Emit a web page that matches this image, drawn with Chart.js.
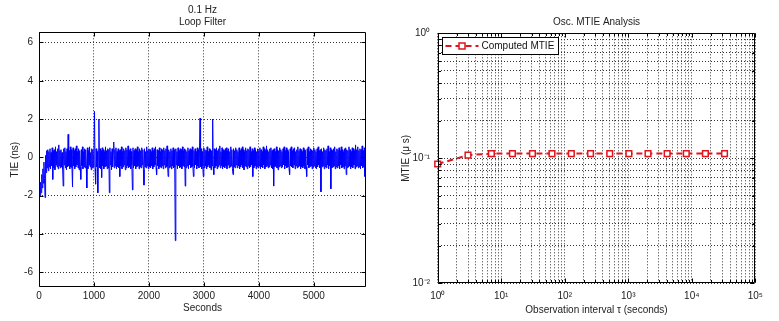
<!DOCTYPE html>
<html>
<head>
<meta charset="utf-8">
<script src="https://cdn.jsdelivr.net/npm/chart.js@4.4.1/dist/chart.umd.min.js"></script>
<style>
html, body { margin: 0; padding: 0; background: #fff; }
#wrap { position: relative; width: 779px; height: 321px; overflow: hidden; }
canvas { position: absolute; top: 0; }
#tieChart { left: 0; }
#mtieChart { left: 390px; }
</style>
</head>
<body>
<div id="wrap">
  <canvas id="tieChart" width="390" height="321"></canvas>
  <canvas id="mtieChart" width="389" height="321"></canvas>
</div>
<script>
// left panel: TIE trace, one value every tieStep seconds (ns)
const tieStep = 10
const tieValues = [
  -2.10,-1.60,-2.00,-1.30,-1.85,-0.90,-1.60,-0.60,-1.35,-0.25,-1.10,-2.10,0.10,-0.80,0.35,-0.55,0.40,-0.70,0.30,-0.50,
  0.45,-0.60,0.25,-0.45,0.50,-1.15,0.35,-0.55,0.40,-0.65,0.55,-0.40,0.30,-0.50,0.45,-0.60,0.65,-0.45,0.35,-0.55,
  0.40,-0.50,0.25,-0.60,-1.50,0.45,-0.40,0.50,-0.55,0.30,-0.65,0.45,-0.50,1.20,-0.45,0.35,-0.60,0.55,-0.50,0.40,
  -0.55,-1.55,0.50,-0.45,0.35,-0.60,0.45,-0.50,0.60,-0.40,0.30,-0.55,0.45,-0.65,0.35,-0.50,-1.15,0.40,-0.45,0.55,
  -0.60,0.30,-0.50,0.45,-0.55,0.40,-0.45,-1.60,0.50,-0.60,0.35,-0.40,0.55,-0.50,0.25,-0.65,0.45,-0.55,0.40,-0.50,
  0.35,2.40,-0.60,-1.40,0.45,-0.50,0.30,-1.85,0.40,2.00,-0.55,0.45,-0.60,0.35,-1.05,0.50,-0.45,0.40,-0.60,0.30,
  -0.50,0.55,-0.45,0.35,-0.60,0.45,-0.55,0.40,-1.85,0.50,-0.40,0.30,-0.65,0.45,-0.50,0.35,0.80,-0.55,0.40,-0.45,
  0.50,-0.60,0.30,-0.50,0.45,-0.55,0.35,-1.00,0.40,-0.45,0.55,-0.60,0.30,-0.50,0.45,-0.40,0.35,-0.65,0.50,-0.55,
  0.40,-0.45,0.60,-0.55,0.35,-0.50,0.45,-0.60,0.30,-0.40,-1.70,0.50,-0.55,0.35,-0.45,0.45,-0.60,0.40,-0.50,0.55,
  -0.45,0.30,-0.60,0.45,-0.50,0.35,-0.55,0.50,-0.40,0.40,-0.65,-1.45,0.45,-0.50,0.30,-0.55,0.55,-0.45,0.35,-0.60,
  0.45,-0.50,0.40,-0.55,0.30,-0.45,0.50,-0.60,0.35,-0.50,0.45,-0.40,0.55,-0.55,-0.90,0.40,-0.45,0.35,-0.60,0.50,
  -0.50,0.30,-0.55,0.45,-0.45,0.40,-0.60,0.50,-0.40,0.35,-0.55,0.45,-0.50,0.60,-0.45,-1.00,0.40,-0.55,0.30,-0.50,
  0.45,-0.60,0.35,-0.45,0.50,-0.55,0.40,-0.50,-4.35,0.45,-0.40,0.30,-0.60,0.50,-0.45,0.35,-0.55,0.45,-0.50,0.40,
  -0.60,0.55,-0.45,0.35,-0.50,0.45,-1.50,0.40,-0.55,0.30,-0.45,0.50,-0.60,0.35,-0.40,0.45,-0.55,0.40,-0.50,0.55,
  -0.45,-1.00,0.35,-0.55,0.45,-0.40,0.30,-0.60,0.50,-0.45,0.40,-0.55,0.35,2.05,-0.50,0.45,-0.60,0.30,-0.45,-1.00,
  0.50,-0.55,0.40,-0.45,0.35,-0.60,0.55,-0.50,0.30,-0.40,0.45,-0.55,0.40,-0.65,0.35,-0.45,2.00,-0.50,-0.90,0.45,
  -0.55,0.40,-0.45,0.50,-0.60,0.35,-0.50,0.45,-0.40,0.60,-0.55,0.30,-0.45,0.50,-0.60,0.40,-0.50,0.35,-0.55,0.45,
  -0.45,0.50,-0.60,0.35,-0.40,0.45,-0.55,0.30,-0.50,0.55,-0.45,0.40,-0.60,-0.90,0.45,-0.50,0.35,-0.55,0.50,-0.40,
  0.40,-0.55,0.30,-0.45,0.50,-0.60,0.35,-0.50,0.45,-0.40,0.55,-0.55,0.40,-0.65,0.30,-0.45,0.50,-0.50,0.35,-0.60,
  0.45,-0.45,0.40,-0.55,0.55,-0.50,0.30,-0.40,0.45,-1.00,0.35,-0.55,0.50,-0.45,0.40,-0.60,0.30,-0.50,0.45,-0.55,
  0.35,-0.45,0.50,-0.60,0.40,-0.50,0.30,-0.55,0.55,-0.40,0.45,-0.60,0.35,-0.50,0.60,-0.45,0.40,-0.55,0.30,-0.50,
  0.45,-0.40,0.50,-0.55,0.35,-0.60,0.40,-1.50,0.45,-0.50,0.30,-0.45,0.55,-0.55,0.40,-0.65,0.35,-0.50,0.50,-0.45,
  0.40,-0.55,0.30,-0.50,0.45,-0.40,0.55,-0.60,0.35,-0.45,0.50,-0.55,0.40,-0.50,0.30,-0.60,-0.90,0.45,-0.45,0.55,
  -0.50,0.35,-0.55,0.45,-0.40,0.50,-0.60,0.30,-0.45,0.40,-0.55,0.55,-0.50,0.35,-0.45,0.45,-0.60,0.40,-0.50,0.30,
  -0.55,0.50,-0.45,0.40,-0.60,0.35,-0.50,-1.00,0.45,-0.40,0.55,-0.55,0.30,-0.50,0.45,-0.45,0.40,-0.60,0.35,-0.50,
  0.50,-0.45,0.40,-0.55,0.30,-0.60,0.45,-0.50,0.55,-0.40,0.35,-0.55,0.40,-1.80,0.45,-0.50,0.30,-0.45,0.50,-0.60,
  0.40,-0.50,0.35,-0.55,0.45,-0.40,0.60,-0.60,0.30,-0.45,0.50,-1.65,0.40,-0.55,0.35,-0.50,0.45,-0.45,0.55,-0.60,
  0.30,-0.50,0.45,-0.55,0.40,-0.45,0.50,-0.60,0.35,-0.40,0.55,-0.55,0.40,-0.50,0.30,-0.60,0.45,-0.45,0.50,-0.90,
  0.40,-0.55,0.35,-0.50,0.55,-0.45,0.40,-0.60,0.30,-0.50,0.50,-0.55,0.45,-0.40,0.35,-0.60,0.65,-0.50,0.40,-0.45,
  0.55,-0.55,0.35,-0.50,0.45,-0.60,0.40,-0.45,0.60,-0.55,0.35,-0.50,0.50,-1.00,0.45,-0.55
]
const tieXTicks = [0, 1000, 2000, 3000, 4000, 5000]
const tieYTicks = [-6, -4, -2, 0, 2, 4, 6]

// right panel: MTIE vs observation interval
const mtieTau = [1, 3, 7, 15, 31, 63, 127, 255, 511, 1023, 2047, 4095, 8191, 16383, 32767]
const mtieValues = [0.090, 0.106, 0.109, 0.109, 0.109, 0.109, 0.109, 0.109, 0.109, 0.109, 0.109, 0.109, 0.109, 0.109, 0.109]
const mtieXDecades = [1, 10, 100, 1000, 10000, 100000]
const mtieXLabels = ['10⁰', '10¹', '10²', '10³', '10⁴', '10⁵']
const mtieYDecades = [0.01, 0.1, 1]
const mtieYLabels = ['10⁻²', '10⁻¹', '10⁰']

const FAMILY = '"Liberation Sans", Arial, sans-serif'
Chart.defaults.font.family = FAMILY
Chart.defaults.font.size = 10
Chart.defaults.color = '#222'

// matlab style box with inward tick marks
const axesBox = {
  id: 'axesBox',
  afterDraw(chart) {
    const {ctx, chartArea: a, scales} = chart
    const x0 = Math.round(a.left) + 0.5, x1 = Math.round(a.right) - 0.5
    const y0 = Math.round(a.top) + 0.5, y1 = Math.round(a.bottom) - 0.5
    ctx.save()
    ctx.strokeStyle = '#000'
    ctx.lineWidth = 1
    ctx.setLineDash([])
    ctx.beginPath()
    ctx.rect(x0, y0, x1 - x0, y1 - y0)
    scales.x.ticks.forEach(t => {
      const p = Math.round(scales.x.getPixelForValue(t.value)) + 0.5
      const len = t.label ? 4 : 2.5
      ctx.moveTo(p, y1); ctx.lineTo(p, y1 - len)
      ctx.moveTo(p, y0); ctx.lineTo(p, y0 + len)
    })
    scales.y.ticks.forEach(t => {
      const p = Math.round(scales.y.getPixelForValue(t.value)) + 0.5
      const len = t.label ? 4 : 2.5
      ctx.moveTo(x0, p); ctx.lineTo(x0 + len, p)
      ctx.moveTo(x1, p); ctx.lineTo(x1 - len, p)
    })
    ctx.stroke()
    ctx.restore()
  }
}

const grid = { color: '#333', lineWidth: 1, drawTicks: false }
const border = { display: false, dash: [1, 2] }

new Chart(document.getElementById('tieChart'), {
  type: 'line',
  data: {
    datasets: [{
      data: tieValues.map((v, i) => ({ x: i * tieStep, y: v })),
      borderColor: '#0000ff',
      borderWidth: 1,
      pointRadius: 0,
      tension: 0
    }]
  },
  options: {
    responsive: false,
    animation: false,
    events: [],
    layout: { padding: { top: 0, right: 24, bottom: 0, left: 0 } },
    plugins: {
      legend: { display: false },
      tooltip: { enabled: false },
      title: {
        display: true,
        fullSize: false,
        text: ['0.1 Hz', 'Loop Filter'],
        color: '#222',
        font: { size: 10, weight: 'normal', lineHeight: 1.2 },
        padding: { top: 4.7, bottom: 3.6 }
      }
    },
    scales: {
      x: {
        type: 'linear',
        min: 0,
        max: 5950,
        afterBuildTicks: s => { s.ticks = tieXTicks.map(v => ({ value: v })) },
        afterFit: s => { s.height = 34 },
        ticks: { callback: v => String(v), autoSkip: false, maxRotation: 0, padding: 3 },
        grid: grid,
        border: border,
        title: { display: true, text: 'Seconds', padding: { top: 0, bottom: 7 } }
      },
      y: {
        type: 'linear',
        min: -6.77,
        max: 6.53,
        afterBuildTicks: s => { s.ticks = tieYTicks.map(v => ({ value: v })) },
        afterFit: s => { s.width = 39 },
        ticks: { callback: v => String(v), autoSkip: false, padding: 6 },
        grid: grid,
        border: border,
        title: { display: true, text: 'TIE (ns)', padding: { top: 9, bottom: 0 } }
      }
    }
  },
  plugins: [axesBox]
})

// legend drawn as a boxed matlab legend inside the axes
const mtieLegend = {
  id: 'mtieLegend',
  afterDraw(chart) {
    const ds = chart.data.datasets[0]
    const {ctx, chartArea: a} = chart
    const bx = Math.round(a.left) + 4.5, by = Math.round(a.top) + 4.5
    ctx.save()
    ctx.font = '10px ' + FAMILY
    const tw = ctx.measureText(ds.label).width
    const bw = Math.round(39 + tw + 4), bh = 17
    ctx.fillStyle = '#fff'
    ctx.fillRect(bx, by, bw, bh)
    ctx.strokeStyle = '#000'
    ctx.lineWidth = 1
    ctx.strokeRect(bx, by, bw, bh)
    const cy = by + bh / 2
    ctx.strokeStyle = ds.borderColor
    ctx.lineWidth = ds.borderWidth
    ctx.setLineDash(ds.borderDash)
    ctx.beginPath()
    ctx.moveTo(bx + 3, cy)
    ctx.lineTo(bx + 36, cy)
    ctx.stroke()
    ctx.setLineDash([])
    ctx.lineWidth = ds.pointBorderWidth
    ctx.fillStyle = ds.pointBackgroundColor
    ctx.beginPath()
    ctx.rect(bx + 16.5, cy - 3, 6, 6)
    ctx.fill()
    ctx.stroke()
    ctx.fillStyle = '#111'
    ctx.textBaseline = 'middle'
    ctx.fillText(ds.label, bx + 39, cy + 0.5)
    ctx.restore()
  }
}

const decadeTicks = decades => {
  const out = []
  decades.forEach((d, i) => {
    if (i === decades.length - 1) { out.push({ value: d }); return }
    for (let k = 1; k < 10; k++) out.push({ value: d * k })
  })
  return out
}
const decadeLabel = (decades, labels) => v => {
  const i = decades.findIndex(d => Math.abs(d - v) < d * 1e-6)
  return i >= 0 ? labels[i] : ''
}

new Chart(document.getElementById('mtieChart'), {
  type: 'line',
  data: {
    datasets: [{
      label: 'Computed MTIE',
      data: mtieTau.map((t, i) => ({ x: t, y: mtieValues[i] })),
      borderColor: '#e0141c',
      borderWidth: 2,
      borderDash: [6, 4],
      pointStyle: 'rect',
      pointRadius: 4,
      pointBorderWidth: 1.5,
      pointBorderColor: '#e0141c',
      pointBackgroundColor: '#fff',
      tension: 0,
      clip: false
    }]
  },
  options: {
    responsive: false,
    animation: false,
    events: [],
    layout: { padding: { top: 0, right: 23.7, bottom: 0, left: 0 } },
    plugins: {
      legend: { display: false },
      tooltip: { enabled: false },
      title: {
        display: true,
        fullSize: false,
        text: 'Osc. MTIE Analysis',
        color: '#222',
        font: { size: 10, weight: 'normal', lineHeight: 1.2 },
        padding: { top: 16.7, bottom: 4.6 }
      }
    },
    scales: {
      x: {
        type: 'logarithmic',
        min: 1,
        max: 100000,
        afterBuildTicks: s => { s.ticks = decadeTicks(mtieXDecades) },
        afterFit: s => { s.height = 37.7 },
        ticks: { callback: decadeLabel(mtieXDecades, mtieXLabels), autoSkip: false, maxRotation: 0, padding: 6.5 },
        grid: grid,
        border: border,
        title: { display: true, text: 'Observation interval τ (seconds)', padding: { top: 0, bottom: 5 } }
      },
      y: {
        type: 'logarithmic',
        min: 0.01,
        max: 1,
        afterBuildTicks: s => { s.ticks = decadeTicks(mtieYDecades) },
        afterFit: s => { s.width = 47.7 },
        ticks: { callback: decadeLabel(mtieYDecades, mtieYLabels), autoSkip: false, padding: 7.7 },
        grid: grid,
        border: border,
        title: { display: true, text: 'MTIE (μ s)', padding: { top: 10, bottom: 0 } }
      }
    }
  },
  plugins: [axesBox, mtieLegend]
})
</script>
</body>
</html>
